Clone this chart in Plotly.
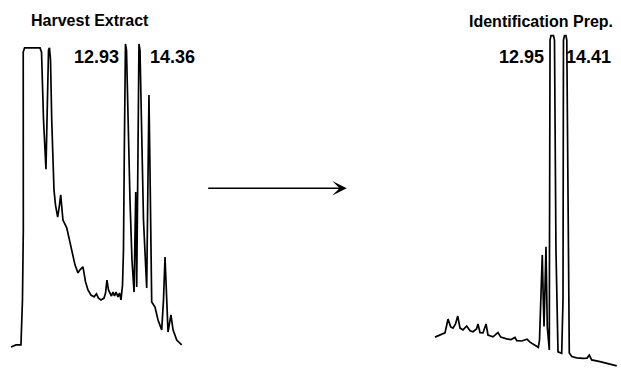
import plotly.graph_objects as go

# ---- Harvest Extract chromatogram (retention time, min / detector response, % full scale)
harvest_time = [0.81, 1.33, 1.86, 2.02, 2.11, 2.08, 2.10, 2.24, 3.88, 4.04, 4.25, 4.51, 4.67, 4.78, 4.88,
                4.99, 5.12, 5.36, 5.52, 5.75, 5.94, 6.07, 6.21, 6.31, 6.71, 6.95, 7.27, 7.59, 7.90, 8.11,
                8.43, 8.70, 8.96, 9.28, 9.60, 9.86, 10.07, 10.34, 10.66, 10.82, 10.97, 11.13, 11.29, 11.45,
                11.61, 11.77, 11.93, 12.14, 12.30, 12.46, 12.62, 12.72, 12.81, 12.86, 12.93, 13.04, 13.20,
                13.41, 13.62, 13.84, 14.02, 14.12, 14.21, 14.29, 14.36, 14.47, 14.63, 14.84, 15.18, 15.32,
                15.42, 15.53, 15.64, 15.71, 16.06, 16.38, 16.77, 16.96, 17.12, 17.30, 17.44, 17.75, 17.97,
                18.36, 18.89]
harvest_signal = [7.0, 7.7, 7.7, 22.7, 46.0, 82.7, 105.3, 106.7, 106.7, 105.3, 82.7, 66.3, 89.3, 106.0, 106.7,
                  102.7, 82.7, 59.3, 54.3, 50.3, 54.3, 57.7, 52.7, 49.3, 46.7, 43.3, 38.7, 34.3, 31.7, 32.7,
                  33.7, 28.7, 26.0, 24.3, 23.7, 24.7, 23.3, 22.7, 23.3, 25.0, 29.3, 26.0, 25.0, 24.0,
                  25.3, 24.0, 25.3, 23.7, 25.0, 22.7, 27.7, 39.3, 72.7, 102.7, 108.0, 106.0, 82.7,
                  56.0, 36.0, 25.3, 58.7, 27.0, 56.0, 102.7, 108.0, 106.0, 82.7, 49.3, 26.7, 62.7,
                  91.0, 66.0, 36.0, 22.0, 20.3, 16.0, 12.7, 22.7, 37.0, 20.3, 12.0, 17.7, 12.7,
                  9.3, 7.7]

# ---- Identification Prep. chromatogram
prep_time = [0.30, 0.84, 1.38, 1.55, 1.71, 2.00, 2.25, 2.52, 2.76, 3.01, 3.33, 3.73, 4.09, 4.41, 4.79,
             4.95, 5.17, 5.49, 5.82, 6.03, 6.57, 7.11, 7.41, 8.05, 8.52, 8.95, 9.14, 9.68, 10.25, 10.57,
             11.11, 11.47, 11.60, 11.71, 11.90, 12.01, 12.09, 12.19, 12.30, 12.44, 12.66, 12.68, 12.70,
             12.74, 12.84, 13.11, 13.22, 13.28, 13.38, 13.60, 14.00, 14.14, 14.16, 14.19, 14.30, 14.46,
             14.55, 14.61, 14.71, 14.82, 15.09, 15.62, 16.34, 16.74, 16.98, 17.24, 18.14, 19.22, 19.95]
prep_signal = [10.3, 11.0, 11.7, 14.0, 16.3, 13.7, 13.3, 14.7, 17.3, 13.3, 12.7, 14.0, 12.4, 12.1, 13.0,
               14.7, 11.8, 11.7, 14.7, 11.0, 10.4, 11.8, 10.3, 9.7, 9.5, 10.2, 9.1, 9.0, 9.6, 8.6,
               7.7, 6.9, 9.3, 22.7, 37.7, 22.7, 13.8, 26.0, 40.4, 13.8, 6.0, 39.3, 89.3,
               109.3, 110.8, 110.8, 109.3, 89.3, 39.3, 5.4, 4.9, 22.7, 89.3, 109.3, 110.8, 110.8,
               109.3, 89.3, 39.3, 5.0, 3.8, 3.4, 3.2, 3.3, 4.3, 2.7, 2.1, 1.2, 0.7]

panel_titles = ["Harvest Extract", "Identification Prep."]
harvest_peaks = ["12.93", "14.36"]
prep_peaks = ["12.95", "14.41"]

W, H = 621, 368
fig = go.Figure()
fig.add_trace(go.Scatter(x=harvest_time, y=harvest_signal, mode="lines",
                         line=dict(color="black", width=1.7), xaxis="x", yaxis="y",
                         showlegend=False, hoverinfo="skip"))
fig.add_trace(go.Scatter(x=prep_time, y=prep_signal, mode="lines",
                         line=dict(color="black", width=1.7), xaxis="x2", yaxis="y2",
                         showlegend=False, hoverinfo="skip"))

hidden = dict(visible=False, showgrid=False, zeroline=False, fixedrange=True)
fig.update_layout(
    width=W, height=H,
    margin=dict(l=0, r=0, t=0, b=0),
    paper_bgcolor="white", plot_bgcolor="white",
    xaxis=dict(domain=[3.4 / W, 192.2 / W], range=[0, 20], **hidden),
    yaxis=dict(domain=[0, 1], range=[0, 122.67], **hidden),
    xaxis2=dict(domain=[432.2 / W, 617.2 / W], range=[0, 20], anchor="y2", **hidden),
    yaxis2=dict(domain=[0, 1], range=[0, 122.67], anchor="x2", **hidden),
)

font_main = dict(family="Liberation Sans, Arial, sans-serif", color="black")

def label(text, px, py, size):
    fig.add_annotation(text="<b>%s</b>" % text, xref="paper", yref="paper",
                       x=px / W, y=1 - py / H, showarrow=False,
                       xanchor="center", yanchor="middle",
                       font=dict(size=size, **font_main))

label(panel_titles[0], 89.5, 21, 16)
label(panel_titles[1], 540.5, 21.5, 16)
label(harvest_peaks[0], 96, 57, 18)
label(harvest_peaks[1], 172, 57, 18)
label(prep_peaks[0], 521, 57, 18)
label(prep_peaks[1], 588, 57, 18)

# process arrow
fig.add_annotation(xref="paper", yref="paper", x=346.7 / W, y=1 - 188.3 / H,
                   ax=-140, ay=0, axref="pixel", ayref="pixel", text="",
                   showarrow=True, arrowhead=3, arrowsize=1.5, arrowwidth=1.6,
                   arrowcolor="black")

fig.write_html("out.html", config={"displayModeBar": False},
               post_script="document.body.style.margin='0';document.body.style.overflow='hidden';")
